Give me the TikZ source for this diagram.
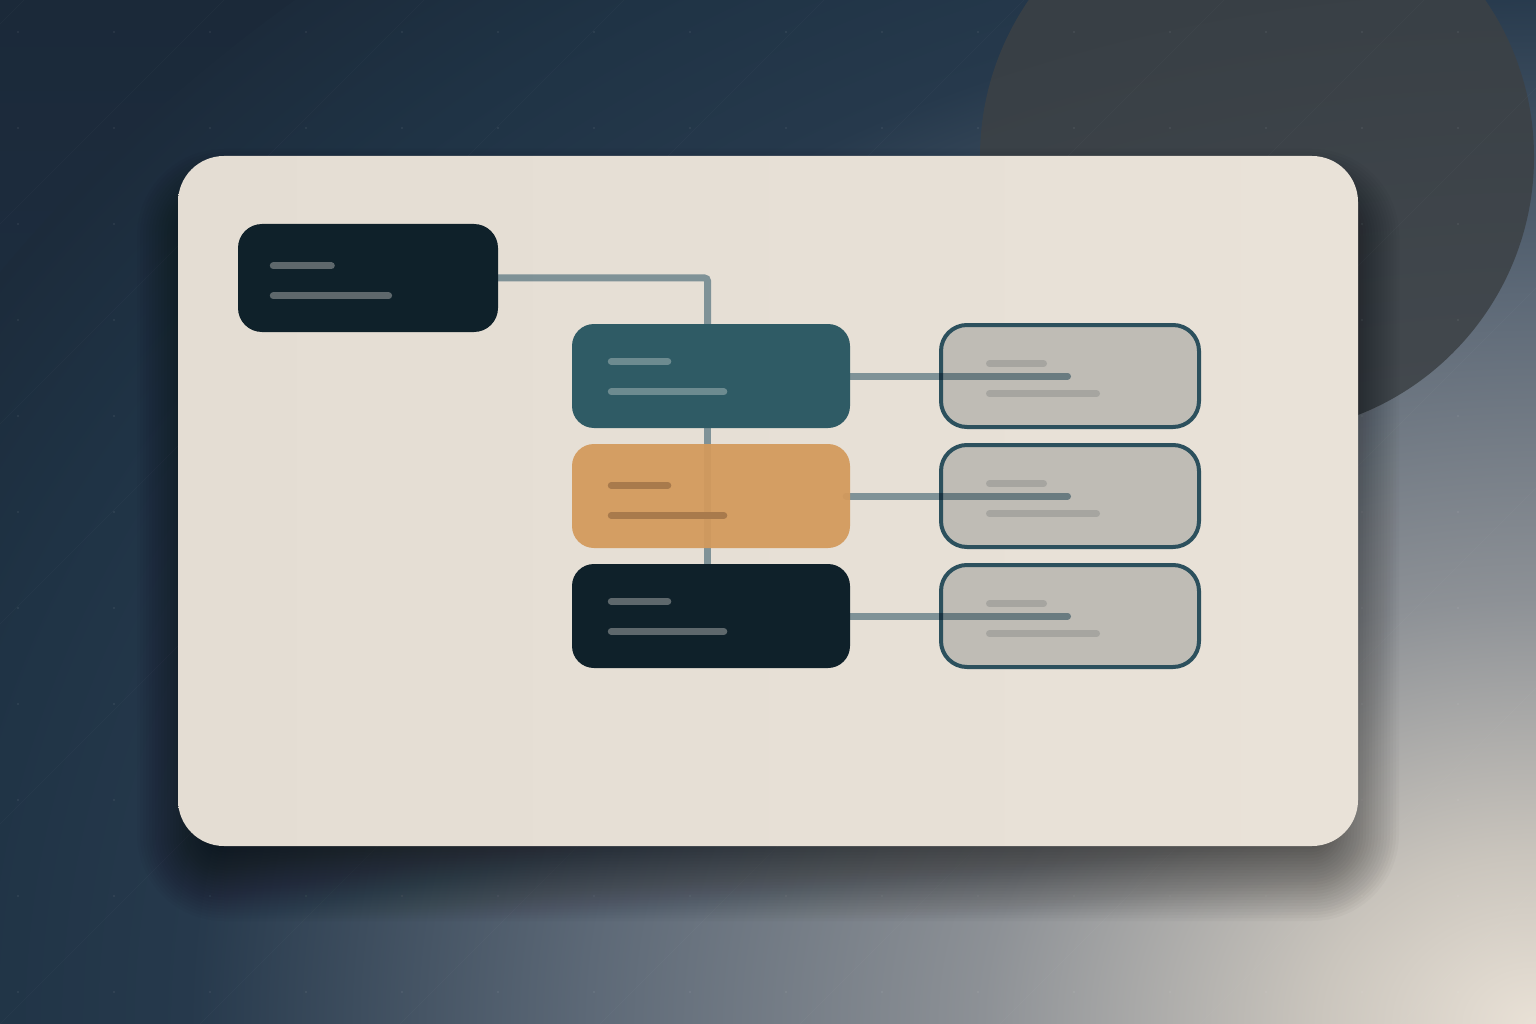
\documentclass[tikz,border=0pt]{standalone}
\usetikzlibrary{calc}
\definecolor{bgTop}{HTML}{1B2939}
\definecolor{bgBot}{HTML}{20344A}
\definecolor{gA}{HTML}{E9E1D6}
\definecolor{gB}{HTML}{CAC5BD}
\definecolor{gC}{HTML}{8D9196}
\definecolor{gD}{HTML}{5D6977}
\definecolor{gE}{HTML}{26394C}
\definecolor{gF}{HTML}{1F3345}
\definecolor{gG}{HTML}{1C2B3B}
\definecolor{circC}{HTML}{3C4145}
\definecolor{cardL}{HTML}{E4DDD3}
\definecolor{cardR}{HTML}{E9E2D8}
\definecolor{darkC}{HTML}{0F212A}
\definecolor{tealC}{HTML}{2F5B65}
\definecolor{orangeC}{HTML}{D39A5C}
\definecolor{barDark}{HTML}{5E686C}
\definecolor{barTeal}{HTML}{6D8B90}
\definecolor{barOr}{HTML}{A87A4C}
\definecolor{rFill}{HTML}{BFBCB5}
\definecolor{rEdge}{HTML}{2C505D}
\definecolor{rBar}{HTML}{A6A5A0}
\definecolor{connC}{HTML}{8DA7B5}
\pgfdeclareradialshading{glow}{\pgfpoint{0bp}{0bp}}{color(0bp)=(gA); color(3bp)=(gB); color(7.6bp)=(gC); color(13bp)=(gD); color(18.5bp)=(gE); color(22bp)=(gF); color(25bp)=(gG); color(50bp)=(gG)}
\pgfdeclarelayer{bg}
\pgfdeclarelayer{rt}
\pgfdeclarelayer{cn}
\pgfsetlayers{bg,rt,cn,main}
\begin{document}
\begin{tikzpicture}[x=1pt,y=-1pt,
  conn/.style={line width=7pt, draw=connC, line cap=round},
  bar/.style={line width=7pt, line cap=round},
  lbox/.style={rectangle, rounded corners=22pt, minimum width=278pt, minimum height=104pt, inner sep=0pt},
  rbox/.style={rectangle, rounded corners=26pt, minimum width=258pt, minimum height=102pt, inner sep=0pt, fill=rFill, draw=rEdge, line width=4pt},
  card/.style={rectangle, rounded corners=46pt, minimum width=1180pt, minimum height=690pt, inner sep=0pt, left color=cardL, right color=cardR}]
\useasboundingbox (0,0) rectangle (1536,1024);
\begin{pgfonlayer}{bg}
  \clip (0,0) rectangle (1536,1024);
  \fill[top color=bgTop, bottom color=bgBot] (0,0) rectangle (1536,1024);
  \shade[shading=glow] (1536,1024) ellipse [x radius=1820, y radius=1400];
  \fill[circC, opacity=0.86] (1257,157) circle [radius=277];
  \foreach \k in {-1000,-800,...,1600} {\draw[white, opacity=0.025, line width=0.8pt] (\k,1024) -- (\k+1024,0);}
  \foreach \i in {0,...,15} {\foreach \j in {0,...,10} {\fill[white, opacity=0.06] (18+96*\i,32+96*\j) circle [radius=1.4];}}
  % soft card shadow
  \foreach \s in {-40,-37,...,41} {
    \pgfmathsetmacro{\rr}{max(46+\s,12)}
    \fill[black, opacity=0.024, rounded corners=\rr pt] (178-\s,190-\s) rectangle (1358+\s,880+\s);
  }
  \node[card] (card) at (768,501) {};
\end{pgfonlayer}
% right column
\begin{pgfonlayer}{rt}
  \node[rbox] (r1) at (1070,376) {};
  \node[rbox] (r2) at (1070,496) {};
  \node[rbox] (r3) at (1070,616) {};
  \foreach \r in {r1,r2,r3} {
    \draw[bar, draw=rBar] ($(\r.center)+(-80.5,-12.3)$) -- ++(54,0);
    \draw[bar, draw=rBar] ($(\r.center)+(-80.5,17.7)$) -- ++(107,0);
  }
  \coordinate (e1) at ($(r1.center)+(-2.5,0)$);
  \coordinate (e2) at ($(r2.center)+(-2.5,0)$);
  \coordinate (e3) at ($(r3.center)+(-2.5,0)$);
\end{pgfonlayer}
% left column
\node[lbox, fill=darkC, minimum width=260pt, minimum height=108pt, rounded corners=24pt] (root) at (368,278) {};
\node[lbox, fill=tealC] (teal) at (711,376) {};
\node[lbox, fill=orangeC, fill opacity=0.94] (orange) at (711,496) {};
\node[lbox, fill=darkC] (darkn) at (711,616) {};
\draw[bar, draw=barDark] ($(root.north west)+(35.5,42)$) -- ++(58,0);
\draw[bar, draw=barDark] ($(root.north west)+(35.5,72)$) -- ++(115.3,0);
\draw[bar, draw=barTeal] ($(teal.north west)+(39.5,37.7)$) -- ++(56.5,0);
\draw[bar, draw=barTeal] ($(teal.north west)+(39.5,68)$) -- ++(112.5,0);
\draw[bar, draw=barOr] ($(orange.north west)+(39.5,41.7)$) -- ++(56.5,0);
\draw[bar, draw=barOr] ($(orange.north west)+(39.5,71.7)$) -- ++(112.5,0);
\draw[bar, draw=barDark] ($(darkn.north west)+(39.5,37.7)$) -- ++(56.5,0);
\draw[bar, draw=barDark] ($(darkn.north west)+(39.5,67.7)$) -- ++(112.5,0);
% connectors
\begin{pgfonlayer}{cn}
\begin{scope}[blend mode=multiply]
  \draw[conn, rounded corners=3pt] ([xshift=-8pt]root.east) -| ([xshift=-3.5pt,yshift=-8pt]teal.north);
  \draw[conn] ([xshift=-3.5pt]teal.center) -- ([xshift=-3.5pt]darkn.center);
  \draw[conn] ([xshift=-4pt]teal.east) -- (e1);
  \draw[conn] ([xshift=-4pt]orange.east) -- (e2);
  \draw[conn] ([xshift=-4pt]darkn.east) -- (e3);
\end{scope}
\end{pgfonlayer}
\end{tikzpicture}
\end{document}
